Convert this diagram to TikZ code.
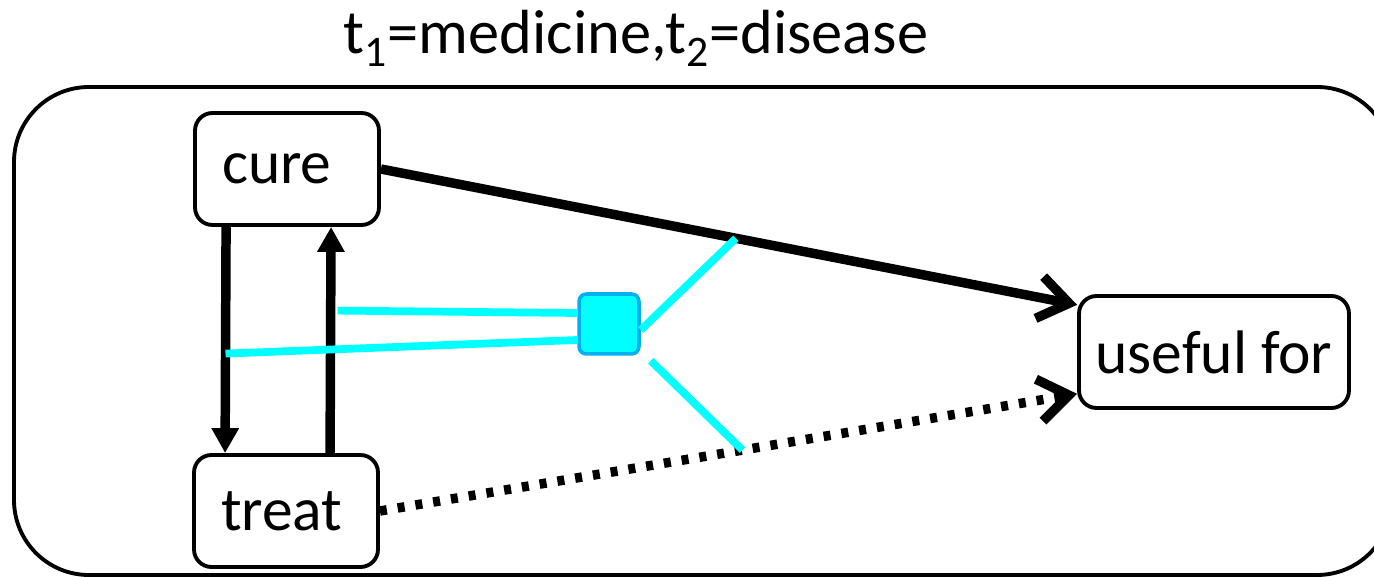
\documentclass[tikz,border=0pt]{standalone}
\usepackage{fontspec}
\setmainfont{Carlito}
\usetikzlibrary{arrows.meta}
\definecolor{factorblue}{RGB}{0,176,240}
\definecolor{linkcyan}{RGB}{0,255,255}
\tikzstyle{word}=[draw,line width=2.2pt,rounded corners=0.35cm,fill=white,minimum height=2.24cm,inner xsep=0.54cm,font=\fontsize{35}{41}\selectfont]
\tikzstyle{factor}=[draw=factorblue,fill=linkcyan,line width=2pt,rounded corners=0.15cm,minimum size=1.2cm,inner sep=0pt]
\tikzstyle{dep edge}=[draw,line width=5.4pt,-{Straight Barb[length=0.6cm,width=0.85cm,line width=5.4pt]}]
\tikzstyle{chain edge}=[draw,line width=5.4pt,-{Triangle[length=0.5cm,width=0.52cm]}]
\tikzstyle{link}=[draw,line width=4.4pt,linkcyan]

\begin{document}
\begin{tikzpicture}[x=0.02cm,y=-0.02cm]
    \useasboundingbox (0,0) rectangle (1374,577);
    \draw[line width=2.2pt,rounded corners=1.5cm] (14,87) rectangle (1392,575);
    \node (title) at (636,38) {\fontsize{35.5}{42}\selectfont t\textsubscript{1}=medicine,t\textsubscript{2}=disease};

    \foreach \pos/\name in {{(287,169)/cure}, {(286,511)/treat}}
        \node[word,text width=2.6cm,align=left] (\name) at \pos {\name};
    \node[word,minimum width=5.4cm,inner xsep=0.2cm] (useful) at (1214,352) {useful for};
    \node[factor] (sq) at (609,324) {};

    % relations between the words
    \path[chain edge] ([xshift=0.66cm]cure.south west) -- ([xshift=0.66cm]treat.north west)
        coordinate[pos=0.56] (down);
    \path[chain edge] ([xshift=2.76cm]treat.north west) -- ([xshift=2.76cm]cure.south west)
        coordinate[pos=0.63] (up);
    \path[dep edge] (cure.east) -- (useful.161) coordinate[pos=0.51] (top);
    \path[dep edge,dash pattern=on 0.14cm off 0.22cm] (treat.east) -- (useful.197)
        coordinate[pos=0.52] (bottom);

    % factor links
    \path[link] ([xshift=0.14cm]up) -- ([yshift=0.22cm]sq.west);
    \path[link] (down) -- ([yshift=-0.32cm]sq.west);
    \path[link] ([yshift=-0.12cm]sq.east) -- (top);
    \path[link] ([xshift=0.2cm,yshift=-0.1cm]sq.south east) -- (bottom);
\end{tikzpicture}
\end{document}
